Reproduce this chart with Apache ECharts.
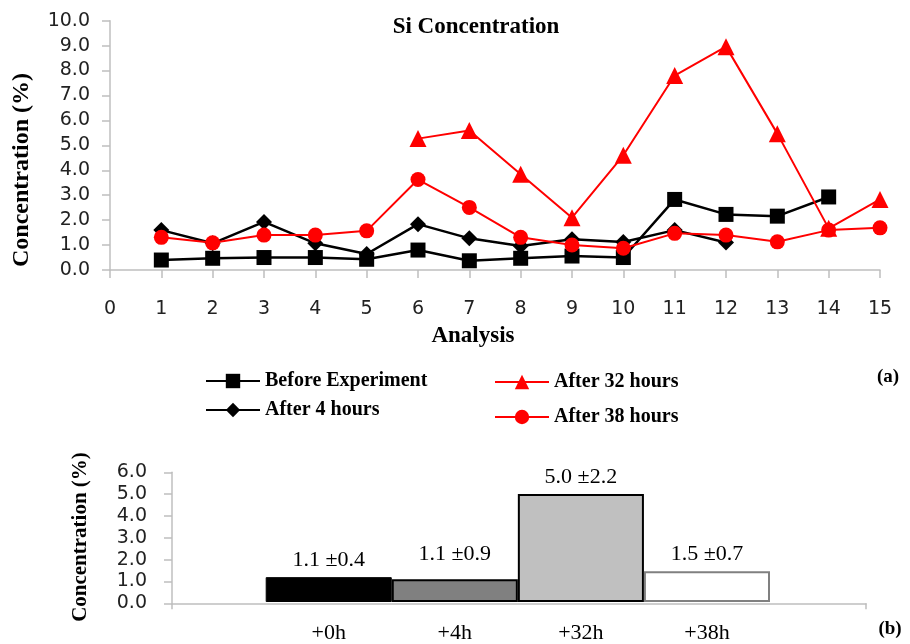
<!DOCTYPE html>
<html>
<head>
<meta charset="utf-8">
<script src="https://cdn.jsdelivr.net/npm/echarts@6/dist/echarts.min.js"></script>
<style>
  html, body { margin: 0; padding: 0; background: #fff; }
  #chart { width: 910px; height: 644px; }
</style>
</head>
<body>
<div id="chart"></div>
<script>
// (a) Si concentration per analysis
const analysis = [1, 2, 3, 4, 5, 6, 7, 8, 9, 10, 11, 12, 13, 14, 15];
const beforeExp = [0.4, 0.47, 0.5, 0.5, 0.43, 0.8, 0.37, 0.47, 0.56, 0.5, 2.83, 2.23, 2.16, 2.93, null];
const after4h = [1.6, 1.07, 1.93, 1.07, 0.64, 1.84, 1.27, 0.96, 1.23, 1.12, 1.6, 1.1, null, null, null];
const after32h = [null, null, null, null, null, 5.27, 5.6, 3.84, 2.1, 4.6, 7.8, 8.96, 5.47, 1.67, 2.83];
const after38h = [1.31, 1.09, 1.4, 1.4, 1.57, 3.63, 2.51, 1.31, 1.0, 0.87, 1.47, 1.4, 1.13, 1.6, 1.69];

// (b) mean concentration
const groups = ['+0h', '+4h', '+32h', '+38h'];
const meanConc = [1.15, 1.05, 5.0, 1.42];
const meanLabels = ['1.1 ±0.4', '1.1 ±0.9', '5.0 ±2.2', '1.5 ±0.7'];
const barFill = ['#000000', '#808080', '#c0c0c0', '#ffffff'];
const barEdge = ['#000000', '#000000', '#000000', '#808080'];

const serif = 'Liberation Serif';
const sans = 'DejaVu Sans';
const axisGray = '#bfbfbf';

const pts = (arr) => analysis.map((x, i) => [x, arr[i]]).filter(p => p[1] != null);

const chart = echarts.init(document.getElementById('chart'));

const lineSeries = (name, arr, color, symbol, size, width) => ({
  name,
  type: 'line',
  xAxisIndex: 0,
  yAxisIndex: 0,
  data: pts(arr),
  symbol,
  symbolSize: size,
  itemStyle: { color },
  lineStyle: { color, width },
  animation: false,
});

const legendBox = (name, left, top) => ({
  data: [name],
  left, top,
  itemWidth: 54,
  itemHeight: 18,
  textStyle: { fontFamily: serif, fontWeight: 'bold', fontSize: 20, color: '#000' },
});

chart.setOption({
  animation: false,
  grid: [
    { left: 110, right: 30, top: 20.7, bottom: 374 },
    { left: 172, right: 44, top: 472.3, bottom: 40.7 },
    { left: 265.7, right: 140, top: 472.3, bottom: 40.7 },
  ],
  legend: [
    legendBox('Before Experiment', 200, 366),
    legendBox('After 4 hours', 200, 395),
    legendBox('After 32 hours', 489, 367),
    legendBox('After 38 hours', 489, 402),
  ],
  xAxis: [
    {
      gridIndex: 0, type: 'value', min: 0, max: 15, interval: 1,
      splitLine: { show: false },
      axisLine: { lineStyle: { color: axisGray, width: 1.5 } },
      axisTick: { show: true, length: 8, lineStyle: { color: axisGray, width: 1.5 } },
      axisLabel: { margin: 30, fontFamily: sans, fontSize: 19, color: '#222' },
    },
    {
      gridIndex: 1, type: 'value', min: 0, max: 1, interval: 1,
      splitLine: { show: false },
      axisLine: { lineStyle: { color: axisGray, width: 1.5 } },
      axisTick: { show: true, length: 6, lineStyle: { color: axisGray, width: 1.5 } },
      axisLabel: { show: false },
    },
    {
      gridIndex: 2, type: 'category', data: groups,
      axisLine: { show: false },
      axisTick: { show: false },
      axisLabel: { margin: 20, fontFamily: serif, fontSize: 22, color: '#000' },
    },
  ],
  yAxis: [
    {
      gridIndex: 0, type: 'value', min: 0, max: 10, interval: 1,
      splitLine: { show: false },
      axisLine: { show: true, lineStyle: { color: axisGray, width: 1.5 } },
      axisTick: { show: true, length: 8, lineStyle: { color: axisGray, width: 1.5 } },
      axisLabel: { margin: 20, fontFamily: sans, fontSize: 19, color: '#222', formatter: v => v.toFixed(1) },
    },
    {
      gridIndex: 1, type: 'value', min: 0, max: 6, interval: 1,
      splitLine: { show: false },
      axisLine: { show: true, lineStyle: { color: axisGray, width: 1.5 } },
      axisTick: { show: true, length: 8, lineStyle: { color: axisGray, width: 1.5 } },
      axisLabel: { margin: 25, fontFamily: sans, fontSize: 19, color: '#222', formatter: v => v.toFixed(1) },
    },
    {
      gridIndex: 2, type: 'value', min: 0, max: 6, show: false,
    },
  ],
  series: [
    lineSeries('Before Experiment', beforeExp, '#000', 'rect', 15, 2.5),
    lineSeries('After 4 hours', after4h, '#000', 'diamond', 16, 2.5),
    lineSeries('After 32 hours', after32h, '#ff0000', 'triangle', 17, 2),
    lineSeries('After 38 hours', after38h, '#ff0000', 'circle', 15, 2),
    {
      type: 'bar',
      xAxisIndex: 2,
      yAxisIndex: 2,
      barWidth: '100%',
      barCategoryGap: 0,
      data: meanConc.map((v, i) => ({
        value: v,
        itemStyle: { color: barFill[i], borderColor: barEdge[i], borderWidth: i === 0 ? 1 : 2 },
        label: { formatter: meanLabels[i], distance: i === 1 ? 14 : 6 },
      })),
      label: {
        show: true, position: 'top', distance: 6,
        fontFamily: serif, fontSize: 22, color: '#000',
      },
    },
  ],
  graphic: [
    { type: 'text', x: 476, y: 27, style: { text: 'Si Concentration', font: 'bold 23px "Liberation Serif"', fill: '#000', align: 'center', verticalAlign: 'middle' } },
    { type: 'text', x: 473, y: 336, style: { text: 'Analysis', font: 'bold 23px "Liberation Serif"', fill: '#000', align: 'center', verticalAlign: 'middle' } },
    { type: 'text', x: 22, y: 170, rotation: Math.PI / 2, style: { text: 'Concentration (%)', font: 'bold 24px "Liberation Serif"', fill: '#000', align: 'center', verticalAlign: 'middle' } },
    { type: 'text', x: 81, y: 537, rotation: Math.PI / 2, style: { text: 'Concentration (%)', font: 'bold 21px "Liberation Serif"', fill: '#000', align: 'center', verticalAlign: 'middle' } },
    { type: 'text', x: 888, y: 377, style: { text: '(a)', font: 'bold 19px "Liberation Serif"', fill: '#000', align: 'center', verticalAlign: 'middle' } },
    { type: 'text', x: 890, y: 629, style: { text: '(b)', font: 'bold 19px "Liberation Serif"', fill: '#000', align: 'center', verticalAlign: 'middle' } },
  ],
});
</script>
</body>
</html>
